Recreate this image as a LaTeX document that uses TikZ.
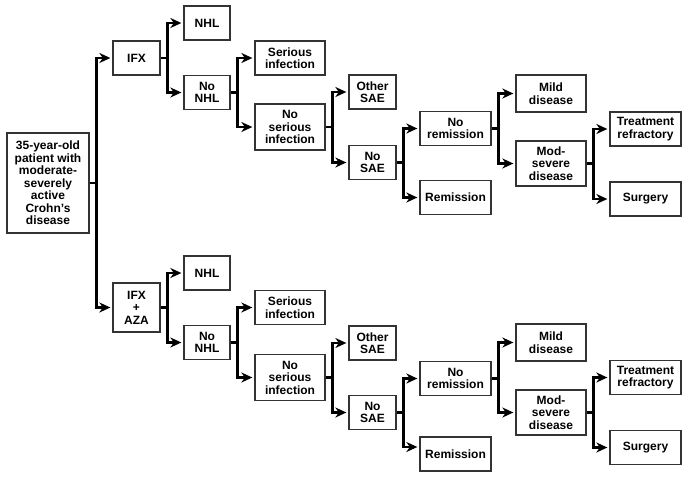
\documentclass[tikz,border=0pt]{standalone}
\usepackage{fontspec}
\setmainfont{Liberation Sans}
\usetikzlibrary{arrows.meta,calc}
\begin{document}
\begin{tikzpicture}[x=1pt,y=-1pt,
  box/.style={draw=black!80,line width=1.3pt,fill=white,align=center,inner sep=1pt,
    font=\fontsize{12}{12.5}\selectfont\bfseries},
  conn/.style={line width=2.6pt,black,line join=miter,shorten >=2pt,
    -{Stealth[length=11pt,width=10pt,inset=3.5pt]}},
  stub/.style={line width=2.6pt,black}]
\useasboundingbox (0,0) rectangle (687,477);
% boxes: name, center, width, height
\newcommand{\bx}[6]{\node[box,minimum width=#4pt,minimum height=#5pt] (#1) at (#2,#3) {#6};}
\bx{root}{48}{183}{82}{100}{35-year-old\\patient with\\moderate-\\severely\\active\\Crohn's\\disease}
% top branch
\bx{ifx}{136.5}{58}{47}{34}{IFX}
\bx{nhl}{207}{23}{46}{34}{NHL}
\bx{nonhl}{207}{92.5}{46}{34}{No\\NHL}
\bx{si}{290}{58}{70}{34}{Serious\\infection}
\bx{nsi}{290}{127}{70}{46}{No\\serious\\infection}
\bx{osae}{372.5}{92}{47}{34}{Other\\SAE}
\bx{nsae}{372.5}{162.5}{47}{34}{No\\SAE}
\bx{nrem}{455.5}{128.5}{71}{34}{No\\remission}
\bx{rem}{455.5}{197.5}{71}{34}{Remission}
\bx{mild}{551}{93.5}{70}{37}{Mild\\disease}
\bx{mod}{551}{163.5}{70}{45}{Mod-\\severe\\disease}
\bx{tr}{645.5}{129}{71}{34}{Treatment\\refractory}
\bx{surg}{645.5}{199}{71}{34}{Surgery}
% bottom branch
\bx{ifxa}{136.5}{307.5}{47}{49}{IFX\\+\\AZA}
\bx{nhlb}{207}{273}{46}{34}{NHL}
\bx{nonhlb}{207}{342.5}{46}{34}{No\\NHL}
\bx{sib}{290}{307.5}{70}{34}{Serious\\infection}
\bx{nsib}{290}{377.5}{70}{46}{No\\serious\\infection}
\bx{osaeb}{372.5}{343}{47}{34}{Other\\SAE}
\bx{nsaeb}{372.5}{412.5}{47}{34}{No\\SAE}
\bx{nremb}{455.5}{378.5}{71}{34}{No\\remission}
\bx{remb}{455.5}{454}{71}{34}{Remission}
\bx{mildb}{551}{342.5}{70}{37}{Mild\\disease}
\bx{modb}{551}{412.5}{70}{45}{Mod-\\severe\\disease}
\bx{trb}{645.5}{377.5}{71}{34}{Treatment\\refractory}
\bx{surgb}{645.5}{447.5}{71}{34}{Surgery}
% connectors
\newcommand{\br}[3]{%
  \draw[stub] (#1.east) -- ++(7,0) coordinate (#1t);
  \draw[conn] (#1t) |- (#2.west);
  \draw[conn] (#1t) |- (#3.west);}
\br{root}{ifx}{ifxa}
\br{ifx}{nhl}{nonhl}
\br{nonhl}{si}{nsi}
\br{nsi}{osae}{nsae}
\br{nsae}{nrem}{rem}
\br{nrem}{mild}{mod}
\br{mod}{tr}{surg}
\br{ifxa}{nhlb}{nonhlb}
\br{nonhlb}{sib}{nsib}
\br{nsib}{osaeb}{nsaeb}
\draw[stub] (nsaeb.east) -- ++(7,0) coordinate (nsaebt);
\draw[conn] (nsaebt) |- (nremb.west);
\draw[conn] (nsaebt) |- ($(remb.west)+(0,-7)$);
\br{nremb}{mildb}{modb}
\br{modb}{trb}{surgb}
\end{tikzpicture}
\end{document}
